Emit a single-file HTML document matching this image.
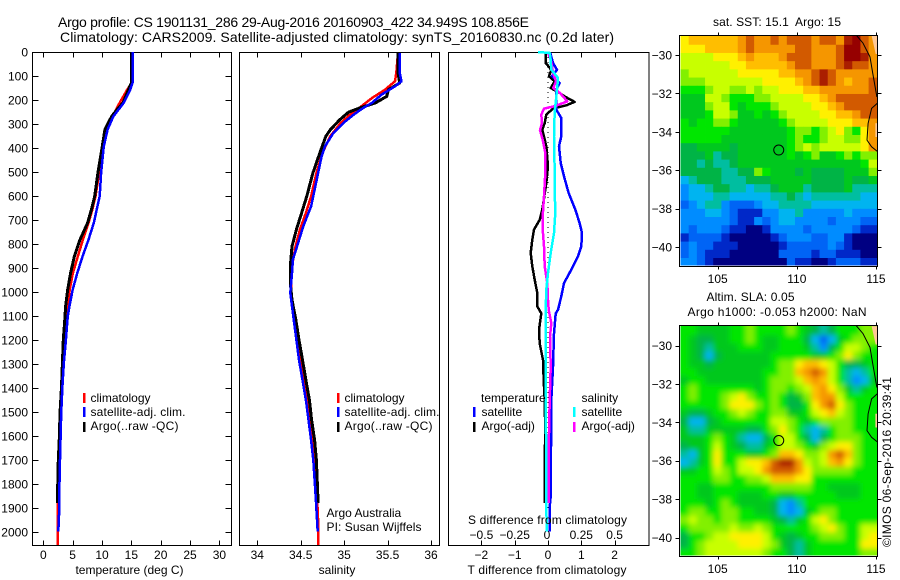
<!DOCTYPE html>
<html>
<head>
<meta charset="utf-8">
<title>Argo profile</title>
<style>
html,body{margin:0;padding:0;background:#fff;}
svg{display:block;}
text{font-family:"Liberation Sans",Arial,sans-serif;font-size:12px;fill:#000;}
</style>
</head>
<body>
<svg id="chart" xmlns="http://www.w3.org/2000/svg" width="900" height="580" viewBox="0 0 900 580">
<rect x="0" y="0" width="900" height="580" fill="#fff"/>
<g id="layer-map-1"></g>
<g id="layer-map-2"></g>
<g id="layer-axes"></g>
<g id="layer-series"></g>

<text x="58" y="27" textLength="471" font-size="14" style="font-size:14px">Argo profile: CS 1901131_286 29-Aug-2016 20160903_422 34.949S 108.856E</text>
<text x="60" y="42" textLength="554" style="font-size:14px">Climatology: CARS2009. Satellite-adjusted climatology: synTS_20160830.nc (0.2d later)</text>

<text x="129.5" y="574" text-anchor="middle">temperature (deg C)</text>
<text x="337" y="574" text-anchor="middle">salinity</text>
<text x="547" y="574" text-anchor="middle" textLength="159">T difference from climatology</text>
<text x="547.5" y="524" text-anchor="middle" textLength="159">S difference from climatology</text>

<g>
  <rect x="83" y="393" width="2.5" height="10" fill="#f00"/>
  <rect x="83" y="407" width="2.5" height="10" fill="#00f"/>
  <rect x="83" y="422" width="2.5" height="10" fill="#000"/>
  <text x="90.5" y="402">climatology</text>
  <text x="90.5" y="416" textLength="95">satellite-adj. clim.</text>
  <text x="90.5" y="430" textLength="88">Argo(..raw -QC)</text>
</g>
<g>
  <rect x="337" y="393" width="2.5" height="10" fill="#f00"/>
  <rect x="337" y="407" width="2.5" height="10" fill="#00f"/>
  <rect x="337" y="422" width="2.5" height="10" fill="#000"/>
  <text x="344.5" y="402">climatology</text>
  <text x="344.5" y="416" textLength="95">satellite-adj. clim.</text>
  <text x="344.5" y="430" textLength="88">Argo(..raw -QC)</text>
  <text x="326.5" y="517">Argo Australia</text>
  <text x="326.5" y="531" textLength="95">PI: Susan Wijffels</text>
</g>
<g>
  <text x="481" y="402">temperature</text>
  <text x="581.5" y="402">salinity</text>
  <rect x="473" y="407" width="2.5" height="10" fill="#00f"/>
  <rect x="473" y="422" width="2.5" height="10" fill="#000"/>
  <rect x="573" y="407" width="2.5" height="10" fill="#0ff"/>
  <rect x="573" y="422" width="2.5" height="10" fill="#f0f"/>
  <text x="481.5" y="416">satellite</text>
  <text x="481.5" y="430">Argo(-adj)</text>
  <text x="581.5" y="416">satellite</text>
  <text x="581.5" y="430">Argo(-adj)</text>
</g>

<text x="777" y="26" text-anchor="middle" textLength="128" style="white-space:pre">sat. SST: 15.1  Argo: 15</text>
<text x="750.5" y="301" text-anchor="middle" textLength="88">Altim. SLA: 0.05</text>
<text x="777" y="316" text-anchor="middle" textLength="179">Argo h1000: -0.053 h2000: NaN</text>
<text transform="translate(891,547) rotate(-90)" textLength="170">©IMOS 06-Sep-2016 20:39:41</text>
</svg>

<script>
/* ---------- axis tick data ---------- */
const depthTicks = [0,100,200,300,400,500,600,700,800,900,1000,1100,1200,1300,1400,1500,1600,1700,1800,1900,2000];
const temperatureTicks = [0,5,10,15,20,25,30];
const salinityTicks = [34,34.5,35,35.5,36];
const salinityTickLabels = ['34','34.5','35','35.5','36'];
const tDiffTicks = [-2,-1,0,1,2];
const tDiffTickLabels = ['\u22122','\u22121','0','1','2'];
const sDiffTicks = [-0.5,-0.25,0,0.25,0.5];
const sDiffTickLabels = ['\u22120.5','\u22120.25','0','0.25','0.5'];
const lonTicks = [105,110,115];
const latTicks = [-30,-32,-34,-36,-38,-40];

/* ---------- temperature profiles ---------- */
const tempClimDepth = [0,129,157,212,268,323,393,504,601,657,712,782,851,921,990,1060,1103,1200,1297,1394,1505,1603,1700,1811,1922,2054];
const tempClimValue = [15.05,15.05,14.3,13,11.8,10.8,10.15,9.5,8.9,8.35,7.7,6.75,5.9,5.05,4.5,4.2,3.95,3.7,3.4,3.2,3,2.85,2.75,2.55,2.45,2.45];
const tempSatDepth = [0,129,157,212,268,323,393,504,601,657,712,782,851,921,990,1060,1103,1200,1297,1394,1505,1603,1700,1811,1922,1998];
const tempSatValue = [15.2,15.2,14.8,13.7,11.95,10.95,10.3,9.85,9.6,9.1,8.6,7.7,6.7,5.8,5,4.45,4.15,3.85,3.5,3.25,3.05,2.95,2.85,2.75,2.7,2.55];
const tempArgoDepth = [0,129,157,212,233,268,323,393,504,601,657,712,782,851,921,990,1060,1103,1200,1297,1394,1505,1603,1700,1811,1880];
const tempArgoValue = [15,15,14.5,13.6,12.8,11.65,10.5,10.05,9.3,8.75,8.2,7.55,6.25,5.3,4.65,4.15,3.8,3.7,3.4,3.25,3.1,2.85,2.75,2.55,2.45,2.4];

/* ---------- salinity profiles ---------- */
const salClimDepth = [4,87,122,157,192,226,261,296,351,421,504,601,671,740,810,893,963,1033,1117,1200,1283,1367,1450,1533,1617,1700,1783,1867,1950,2054];
const salClimValue = [35.62,35.6,35.585,35.47,35.32,35.2,35.07,34.96,34.84,34.75,34.68,34.62,34.56,34.49,34.44,34.4,34.39,34.395,34.43,34.47,34.5,34.54,34.58,34.6,34.63,34.66,34.675,34.69,34.7,34.705];
const salSatDepth = [4,87,122,143,178,212,233,261,296,338,393,435,504,574,643,726,796,865,921,1004,1033,1117,1200,1283,1367,1450,1533,1617,1700,1783,1867,1998];
const salSatValue = [35.64,35.64,35.66,35.585,35.43,35.32,35.22,35.11,34.99,34.875,34.78,34.74,34.7,34.66,34.62,34.53,34.47,34.41,34.4,34.38,34.39,34.42,34.45,34.48,34.52,34.56,34.59,34.62,34.645,34.66,34.675,34.695];
const salArgoDepth = [4,87,129,157,185,212,233,251,282,324,351,421,504,601,671,740,810,893,963,1033,1117,1200,1283,1367,1450,1533,1617,1700,1783,1880];
const salArgoValue = [35.62,35.62,35.64,35.51,35.49,35.36,35.18,35.05,34.95,34.84,34.79,34.72,34.64,34.57,34.51,34.45,34.4,34.38,34.38,34.4,34.445,34.48,34.52,34.56,34.6,34.625,34.66,34.68,34.69,34.7];

/* ---------- difference profiles ---------- */
const dtSatDepth = [4,46,74,101,129,157,192,240,275,351,393,462,518,587,657,712,754,810,851,907,963,1018,1074,1089,1172,1311,1450,1852,1894,1998];
const dtSatValue = [0.07,0.15,0.27,0.12,0.35,0.25,0.25,0.25,0.4,0.4,0.33,0.38,0.48,0.62,0.82,0.95,1.02,1,0.9,0.7,0.48,0.4,0.3,0.23,0.18,0.15,0.1,0.08,0.05,0.06];
const dtArgoDepth = [4,11,46,74,101,122,150,171,185,208,222,236,261,296,324,365,393,476,546,657,699,740,782,837,893,949,1004,1060,1089,1158,1214,1283,1367,1450,1589,1686,1880];
const dtArgoValue = [-0.07,-0.07,-0.07,0.1,0.03,0.2,0.08,0.35,0.5,0.8,0.55,0.15,-0.05,-0.1,-0.17,-0.1,-0.05,0,-0.05,-0.17,-0.25,-0.42,-0.47,-0.52,-0.47,-0.4,-0.32,-0.32,-0.2,-0.27,-0.25,-0.15,-0.13,-0.1,-0.08,-0.1,-0.1];
const dsSatDepth = [0,4,32,74,108,143,199,247,351,504,574,671,754,837,921,990,1074,1311,1450,1728,1867,1998];
const dsSatValue = [-0.075,0.0125,0.02,0.025,0.075,0.07,0.06,0.05,0.045,0.05,0.05,0.055,0.045,0.02,0,-0.0125,-0.0175,-0.015,-0.0175,-0.0125,-0.0125,-0.01];
const dsArgoDepth = [4,32,60,87,122,150,171,206,226,236,261,296,326,365,421,504,601,685,740,810,893,963,1033,1074,1130,1186,1311,1450,1589,1728,1880];
const dsArgoValue = [0,0.02,0.03,0.0375,0.06,0.04,0.09,0.145,0.05,-0.03,-0.05,-0.045,-0.06,-0.04,-0.02,-0.02,-0.03,-0.04,-0.04,-0.03,-0.025,-0.005,0,0.005,0.025,0.015,0.02,0.0125,0.0075,0.005,0.0075];
const zeroLineDepth = [0,1900];
const zeroLineValue = [0,0];

/* ---------- map data: colour level per cell, row = north to south ---------- */
const markerLon = 108.856;
const markerLat = -34.949;
const colourLevels = ['#000082','#0028c8','#0064f5','#008cff','#00b4f0','#00bea0','#00b446','#00c81e','#00e600','#82f000','#c8ff00','#fff000','#ffbe00','#f59600','#d25a00','#aa1e00','#960000'];
const sstGrid = [
[11,12,12,12,12,12,12,13,14,13,13,14,13,14,14,14,13,14,14,13,15,16,14,13],
[11,11,11,12,12,12,12,13,14,13,13,13,13,13,14,14,13,13,13,14,16,16,14,13],
[10,10,10,10,11,11,11,12,13,12,12,12,13,14,14,14,13,13,13,14,16,16,15,13],
[10,10,10,10,10,10,11,11,12,12,12,12,12,13,14,14,13,13,13,14,15,14,14,13],
[9,10,10,10,10,10,10,11,11,11,11,11,12,12,13,13,14,15,14,13,13,13,13,13],
[9,9,9,10,10,10,10,10,10,10,11,11,11,11,12,13,14,15,14,13,12,13,13,14],
[8,8,8,9,10,10,9,9,10,9,10,10,11,11,11,12,12,13,13,13,13,13,13,14],
[7,7,7,10,10,9,8,8,8,9,9,10,10,10,10,11,11,12,13,14,14,14,14,14],
[7,7,7,9,10,10,8,7,8,8,8,9,10,10,10,10,11,11,12,13,14,14,14,14],
[7,7,7,8,10,10,9,7,7,8,7,8,9,10,10,10,10,11,11,12,12,13,14,14],
[8,7,8,8,9,9,8,7,7,7,7,7,8,9,10,10,10,10,11,11,11,12,12,13],
[8,8,8,8,8,8,7,7,7,7,7,7,7,8,9,9,8,9,10,11,9,8,11,13],
[8,8,8,8,8,7,7,7,7,7,7,7,7,8,9,8,8,9,10,10,9,9,11,13],
[6,6,7,7,7,7,6,7,7,7,7,7,7,8,9,10,9,10,10,10,10,10,11,13],
[6,6,6,7,5,6,6,7,7,7,7,7,7,8,7,8,9,7,7,8,9,8,9,9],
[6,6,5,6,5,5,6,7,7,7,7,7,7,7,7,7,7,7,7,7,7,7,8,10],
[6,6,6,6,6,5,5,6,6,9,8,7,7,7,6,7,6,6,6,6,7,7,7,9],
[4,5,6,6,6,5,5,5,6,6,6,7,7,7,7,7,6,6,6,6,7,6,6,7],
[3,4,4,5,6,6,5,5,4,5,5,6,7,7,7,5,6,6,6,6,7,5,5,5],
[3,4,4,4,5,5,4,4,4,4,4,5,5,6,5,4,5,5,5,5,5,5,4,4],
[2,3,4,5,5,3,2,2,2,3,4,4,5,5,5,5,4,4,4,4,4,4,4,4],
[3,3,3,4,4,3,2,1,1,1,3,3,4,4,5,3,3,3,3,3,4,3,3,3],
[3,3,3,3,3,3,2,1,1,3,2,3,4,4,3,3,3,3,2,3,3,3,2,2],
[3,2,3,3,3,2,1,1,0,0,1,3,3,3,3,2,3,3,3,3,3,2,1,1],
[1,2,2,2,2,1,0,0,0,0,0,1,2,3,3,3,2,2,3,3,1,0,0,0],
[2,3,2,2,1,1,1,0,0,0,0,0,1,2,2,2,2,2,3,2,1,0,0,0],
[2,3,2,1,1,1,0,0,0,0,0,0,2,2,2,2,1,2,2,1,1,1,0,0],
[3,3,2,1,0,0,0,0,0,0,0,0,0,2,1,1,0,0,1,2,2,2,1,1]
];
const slaGrid = [
[8,8,7,7,7,7,8,8,9,8,8,8,8,9,8,7,6,5,6,8,8,8,9,9],
[8,7,6,6,7,7,8,8,9,8,7,7,8,8,8,6,4,2,4,7,8,9,9,9],
[8,7,6,5,7,7,7,8,8,8,7,7,8,8,8,7,5,3,6,8,10,10,9,8],
[8,7,6,4,6,7,7,7,7,7,7,8,8,8,8,8,7,7,8,9,11,9,8,8],
[8,7,7,6,7,7,7,7,7,7,7,8,9,9,11,12,12,11,10,8,6,6,7,8],
[8,8,7,7,7,7,7,7,7,7,8,8,9,9,12,13,14,13,10,8,5,4,5,8],
[7,8,8,7,7,7,7,7,7,7,8,9,9,9,10,12,13,12,10,8,5,3,4,7],
[8,9,8,8,8,8,8,8,8,7,8,9,9,8,9,10,12,13,11,9,7,5,7,8],
[8,9,8,8,8,9,10,11,9,8,8,9,8,6,7,9,12,13,13,10,8,8,8,8],
[8,8,8,8,8,9,11,11,11,9,8,9,8,6,6,8,11,13,14,11,9,8,8,8],
[7,6,6,7,8,8,9,10,9,8,8,9,9,7,7,8,10,11,12,10,9,8,8,8],
[6,4,4,6,7,8,8,8,8,8,8,10,10,9,8,7,8,9,9,9,9,8,8,8],
[7,5,5,7,7,7,7,7,6,6,8,9,11,9,8,5,4,5,8,9,9,8,8,8],
[7,7,7,8,9,8,7,5,4,4,6,8,10,10,8,6,4,6,8,9,9,9,8,8],
[6,7,7,8,10,8,7,6,5,5,7,8,10,10,9,8,7,9,10,11,11,9,8,8],
[5,4,7,8,11,8,8,8,7,7,8,9,12,12,11,9,9,10,13,14,12,9,8,8],
[4,5,7,8,11,8,8,10,11,11,12,14,15,15,13,10,9,10,12,13,11,9,8,8],
[7,7,8,8,10,9,8,10,10,11,13,14,14,14,13,11,9,9,9,9,9,8,8,8],
[8,8,8,8,9,9,8,8,9,9,10,12,12,12,11,11,8,8,8,8,8,8,8,8],
[8,8,7,7,8,8,8,8,8,8,8,9,9,9,9,9,8,8,7,7,7,7,8,8],
[8,8,7,7,8,8,8,7,7,7,8,8,7,7,8,8,8,8,8,7,7,7,8,8],
[8,8,8,7,8,9,8,7,7,7,7,6,4,3,5,8,8,8,8,8,8,8,8,8],
[8,9,9,8,8,9,9,8,8,7,7,6,4,3,4,7,8,9,9,8,8,8,8,8],
[9,10,9,9,8,9,9,8,8,8,8,7,6,5,7,8,10,11,9,8,8,8,8,8],
[8,9,9,9,9,9,10,9,9,10,9,8,8,8,8,8,9,10,11,9,8,8,10,10],
[6,8,8,9,10,10,11,11,11,11,10,8,7,6,7,8,8,9,9,9,8,8,10,11],
[6,8,9,10,10,10,10,11,11,11,10,9,7,6,5,7,8,8,8,8,8,8,11,11],
[8,8,9,10,10,10,10,10,10,10,9,8,8,6,5,7,8,8,8,8,8,8,9,9]
];
const coastNorthLon = [113.74,114.18,114.62,114.79,115.06];
const coastNorthLat = [-28.96,-29.38,-30.1,-30.94,-32.19];
const coastSouthLon = [115.1,114.72,114.5,114.43,114.72,115.1];
const coastSouthLat = [-32.5,-32.78,-33.56,-34.43,-34.78,-35.03];
const landNorthLon = [114.72,115.1,115.1,114.98];
const landNorthLat = [-29,-29,-29.95,-29.95];
const landSouthLon = [114.96,115.1,115.1,114.96];
const landSouthLat = [-33.55,-33.55,-34.27,-34.27];

/* ---------- axis functions ---------- */
const yDepth = d => 52 + d * 0.24;
const xTemp = t => 43.3 + t * 5.87;
const xSal = s => 257.3 + (s - 34) * 86.85;
const xDT = t => 548 + t * 33.3;
const xDS = s => 548 + s * 133.2;
const xLon = lon => 717.7 + (lon - 105) * 15.83;
const map1Y = lat => 55 + (-30 - lat) * 19.2;
const map2Y = lat => 345.5 + (-30 - lat) * 19.2;
const LON_MIN = 102.65, LON_MAX = 115.05, LAT_MAX = -29.04, LAT_MIN = -41;

const NS = 'http://www.w3.org/2000/svg';
function mk(tag, attrs, parent) {
  const e = document.createElementNS(NS, tag);
  for (const k in attrs) e.setAttribute(k, attrs[k]);
  parent.appendChild(e);
  return e;
}
const axesLayer = document.getElementById('layer-axes');
const seriesLayer = document.getElementById('layer-series');
const mapLayer1 = document.getElementById('layer-map-1');
const mapLayer2 = document.getElementById('layer-map-2');

function drawTick(x1, y1, x2, y2) {
  const t = mk('line', {x1: x1, y1: y1, x2: x2, y2: y2, stroke: '#000', 'stroke-width': 1, 'shape-rendering': 'crispEdges'}, axesLayer);
  
  
}
function drawLabel(x, y, anchor, str) {
  const t = mk('text', {x: x, y: y, 'text-anchor': anchor}, axesLayer);
  t.textContent = str;
  
  
}
function drawFrame(x, y, w, h) {
  const f = mk('rect', {x: x, y: y, width: w, height: h, fill: 'none', stroke: '#000', 'stroke-width': 1, 'shape-rendering': 'crispEdges'}, axesLayer);
  
  
}

/* profile panels */
const panelTop = 52.5, panelBottom = 545.5;
drawFrame(32.5, panelTop, 199, panelBottom - panelTop);
drawFrame(239.5, panelTop, 200, panelBottom - panelTop);
drawFrame(448.5, panelTop, 200.5, panelBottom - panelTop);

depthTicks.forEach(d => {
  const y = Math.round(yDepth(d)) + 0.5;
  drawTick(32.5, y, 38.5, y);
  drawTick(225.5, y, 231.5, y);
  drawLabel(28, yDepth(d) + 4.5, 'end', String(d));
});
function xTicks(list, labels, xf, labelY) {
  list.forEach((v, i) => {
    const x = Math.round(xf(v)) + 0.5;
    drawTick(x, panelTop, x, panelTop + 5);
    drawTick(x, panelBottom, x, panelBottom - 5);
    drawLabel(xf(v), labelY, 'middle', labels[i]);
  });
}
xTicks(temperatureTicks, temperatureTicks.map(String), xTemp, 559);
xTicks(salinityTicks, salinityTickLabels, xSal, 559);
xTicks(tDiffTicks, tDiffTickLabels, xDT, 559);
sDiffTicks.forEach((v, i) => {
  drawLabel(xDS(v) - (i === 2 ? 1 : 0), 539, 'middle', sDiffTickLabels[i]);
});

function drawProfile(depths, values, xf, colour, width, name, dash) {
  const pts = depths.map((d, i) => xf(values[i]).toFixed(1) + ',' + yDepth(d).toFixed(1)).join(' ');
  const attrs = {points: pts, fill: 'none', stroke: colour, 'stroke-width': width, 'stroke-linejoin': 'round', 'shape-rendering': 'crispEdges'};
  if (dash) attrs['stroke-dasharray'] = dash;
  const p = mk('polyline', attrs, seriesLayer);
  
  
}
drawProfile(tempClimDepth, tempClimValue, xTemp, '#f00', 2.5, 'temperature-climatology-line');
drawProfile(tempArgoDepth, tempArgoValue, xTemp, '#000', 3, 'temperature-argo-line');
drawProfile(tempSatDepth, tempSatValue, xTemp, '#00f', 2.5, 'temperature-satellite-line');

drawProfile(salClimDepth, salClimValue, xSal, '#f00', 2.5, 'salinity-climatology-line');
drawProfile(salArgoDepth, salArgoValue, xSal, '#000', 3, 'salinity-argo-line');
drawProfile(salSatDepth, salSatValue, xSal, '#00f', 2.5, 'salinity-satellite-line');

drawProfile(zeroLineDepth, zeroLineValue, xDT, '#000', 1, 'zero-difference-line', '1 4');
drawProfile(dtArgoDepth, dtArgoValue, xDT, '#000', 2.5, 't-difference-argo-line');
drawProfile(dtSatDepth, dtSatValue, xDT, '#00f', 2.5, 't-difference-satellite-line');
drawProfile(dsArgoDepth, dsArgoValue, xDS, '#f0f', 2.5, 's-difference-argo-line');
drawProfile(dsSatDepth, dsSatValue, xDS, '#0ff', 2.5, 's-difference-satellite-line');

/* maps */
function drawMap(layer, grid, yf, cellName, blur) {
  const rows = grid.length, cols = grid[0].length;
  const dLon = (LON_MAX - LON_MIN) / cols, dLat = (LAT_MAX - LAT_MIN) / rows;
  const g = mk('g', blur ? {filter: 'url(#' + blur + ')'} : {}, layer);
  
  
  grid.forEach((row, r) => {
    row.forEach((level, c) => {
      let x0 = xLon(LON_MIN + c * dLon), x1 = xLon(LON_MIN + (c + 1) * dLon) + 0.4;
      let y0 = yf(LAT_MAX - r * dLat), y1 = yf(LAT_MAX - (r + 1) * dLat) + 0.4;
      if (c === 0) x0 -= 14;
      if (c === cols - 1) x1 += 14;
      if (r === 0) y0 -= 14;
      if (r === rows - 1) y1 += 14;
      const cell = mk('rect', {x: x0.toFixed(2), y: y0.toFixed(2), width: (x1 - x0).toFixed(2), height: (y1 - y0).toFixed(2), fill: colourLevels[level]}, g);
      
      
    });
  });
}
const defs = mk('defs', {}, document.getElementById('chart'));
const clip2 = mk('clipPath', {id: 'clip-map-2'}, defs);
mk('rect', {x: 680.5, y: 325.5, width: 196.5, height: 230}, clip2);
const clip1 = mk('clipPath', {id: 'clip-map-1'}, defs);
mk('rect', {x: 680.5, y: 35.5, width: 196.5, height: 230}, clip1);
const blurF = mk('filter', {id: 'sla-blur', x: '-5%', y: '-5%', width: '110%', height: '110%'}, defs);
mk('feGaussianBlur', {stdDeviation: 2.6}, blurF);

mapLayer1.setAttribute('clip-path', 'url(#clip-map-1)');
mapLayer2.setAttribute('clip-path', 'url(#clip-map-2)');
drawMap(mapLayer1, sstGrid, map1Y, 'sst-cell', null);
drawMap(mapLayer2, slaGrid, map2Y, 'sla-cell', 'sla-blur');

function polyPoints(lons, lats, yf) {
  return lons.map((v, i) => xLon(v).toFixed(1) + ',' + yf(lats[i]).toFixed(1)).join(' ');
}
function drawCoast(layer, yf) {
  const land = mk('polygon', {points: polyPoints(landNorthLon, landNorthLat, yf), fill: '#ffc896'}, layer);
  
  
  const land2 = mk('polygon', {points: polyPoints(landSouthLon, landSouthLat, yf), fill: '#ffc896'}, layer);
  
  
  const a = mk('polyline', {points: polyPoints(coastNorthLon, coastNorthLat, yf), fill: 'none', stroke: '#000', 'stroke-width': 1}, layer);
  
  
  const b = mk('polyline', {points: polyPoints(coastSouthLon, coastSouthLat, yf), fill: 'none', stroke: '#000', 'stroke-width': 1}, layer);
  
  
  const m = mk('circle', {cx: xLon(markerLon), cy: yf(markerLat), r: 5, fill: 'none', stroke: '#000', 'stroke-width': 1}, layer);
  
  
}
drawCoast(mapLayer1, map1Y);
drawCoast(mapLayer2, map2Y);

function mapAxes(top, bottom, yf, labelBase) {
  drawFrame(679.5, top, 198, bottom - top);
  lonTicks.forEach(lon => {
    const x = Math.round(xLon(lon)) + 0.5;
    drawTick(x, top - 3, x, top);
    drawTick(x, bottom, x, bottom + 3);
    drawLabel(xLon(lon), labelBase, 'middle', String(lon));
  });
  latTicks.forEach(lat => {
    const y = Math.round(yf(lat)) + 0.5;
    drawTick(675.5, y, 679.5, y);
    drawTick(877.5, y, 881.5, y);
    drawLabel(672, yf(lat) + 4.5, 'end', '\u2212' + Math.abs(lat));
  });
}
mapAxes(35.5, 266.5, map1Y, 283);
mapAxes(325.5, 556.5, map2Y, 573);
</script>
</body>
</html>
